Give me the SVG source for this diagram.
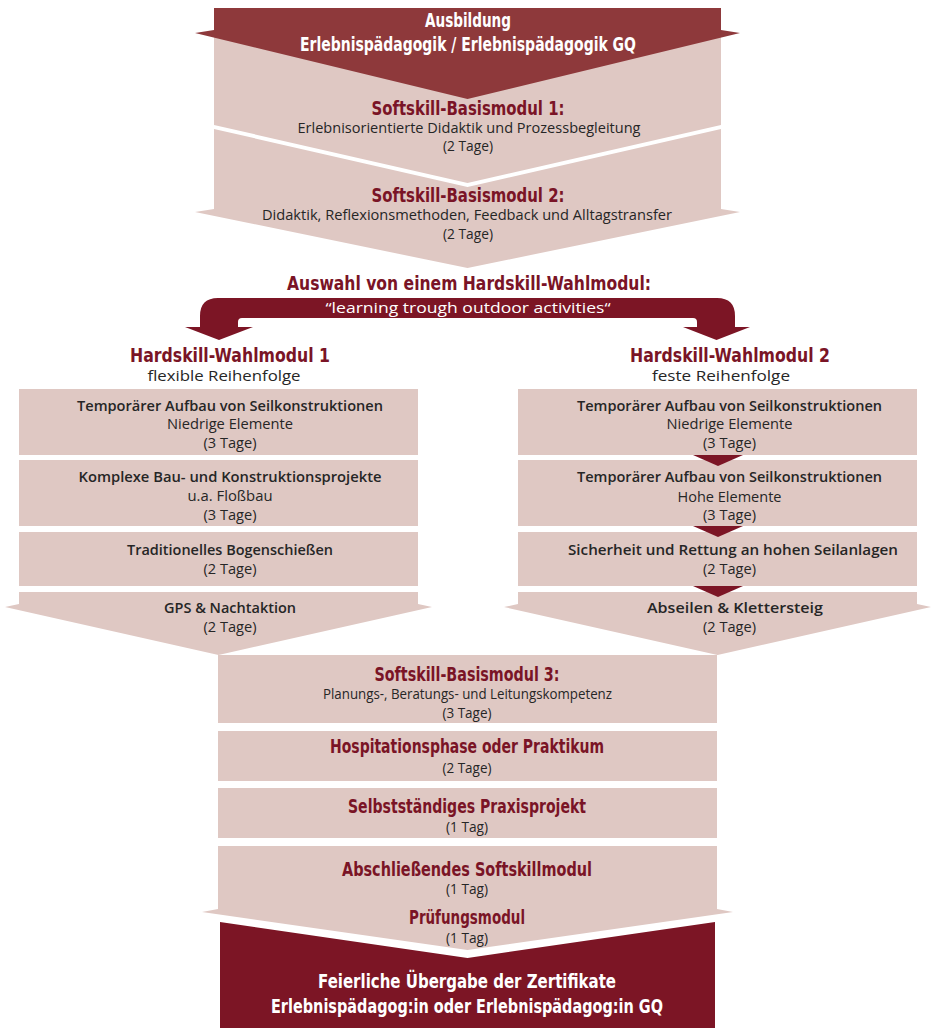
<svg xmlns="http://www.w3.org/2000/svg" width="935" height="1028" viewBox="0 0 935 1028">
<style>
.pk{fill:#dfc8c3}
.dk{fill:#7c1525}
.top{fill:#8e393b}
.h{font-family:"DejaVu Sans","Liberation Sans",Arial,sans-serif;font-weight:bold;font-size:20px;text-anchor:middle;fill:#7a1426}
.b{font-family:"Open Sans","Noto Sans",sans-serif;font-size:15px;text-anchor:middle;fill:#262626}
.s{font-weight:600}
.w{fill:#ffffff}
</style>
<rect width="935" height="1028" fill="#ffffff"/>

<g id="basis1">
<polygon class="pk" points="214,30 721,30 721,125 467.5,183 214,125"/>
<text class="h" x="468" y="115" textLength="193" lengthAdjust="spacingAndGlyphs">Softskill-Basismodul 1:</text>
<text class="b" x="469" y="133" textLength="343" lengthAdjust="spacingAndGlyphs">Erlebnisorientierte Didaktik und Prozessbegleitung</text>
<text class="b" x="468" y="151" textLength="50" lengthAdjust="spacingAndGlyphs">(2 Tage)</text>
</g>

<g id="ausbildung">
<polygon class="top" points="214,8 721,8 721,30 740,33 467.5,99 195,33 214,30"/>
<text class="h w" x="468" y="27" font-size="19" textLength="86" lengthAdjust="spacingAndGlyphs">Ausbildung</text>
<text class="h w" x="468" y="51" font-size="19" textLength="336" lengthAdjust="spacingAndGlyphs">Erlebnispädagogik / Erlebnispädagogik GQ</text>
</g>

<g id="basis2">
<polygon class="pk" points="214,129 467.5,187 721,129 721,209 740,212 467.5,268 195,212 214,209"/>
<text class="h" x="468" y="202" textLength="193" lengthAdjust="spacingAndGlyphs">Softskill-Basismodul 2:</text>
<text class="b" x="467" y="220" textLength="410" lengthAdjust="spacingAndGlyphs">Didaktik, Reflexionsmethoden, Feedback und Alltagstransfer</text>
<text class="b" x="468" y="239" textLength="50" lengthAdjust="spacingAndGlyphs">(2 Tage)</text>
</g>

<g id="auswahl">
<text class="h" x="469" y="290" textLength="364" lengthAdjust="spacingAndGlyphs">Auswahl von einem Hardskill-Wahlmodul:</text>
</g>

<g id="connectors">
<path class="dk" d="M200,327 L200,316 Q200,298 218,298 L717,298 Q735,298 735,316 L735,327 L750,327 L716.5,340 L683,327 L697,327 L697,322 Q697,318 693,318 L242,318 Q238,318 238,322 L238,327 L253,327 L219,340 L185,327 Z"/>
<text class="b w" x="468" y="313" textLength="285" lengthAdjust="spacingAndGlyphs">“learning trough outdoor activities“</text>
</g>

<g id="wahl1-header">
<text class="h" x="230" y="362" textLength="200" lengthAdjust="spacingAndGlyphs">Hardskill-Wahlmodul 1</text>
<text class="b" x="224" y="381" textLength="153" lengthAdjust="spacingAndGlyphs">flexible Reihenfolge</text>
</g>
<g id="wahl2-header">
<text class="h" x="730" y="362" textLength="200" lengthAdjust="spacingAndGlyphs">Hardskill-Wahlmodul 2</text>
<text class="b" x="721" y="381" textLength="138" lengthAdjust="spacingAndGlyphs">feste Reihenfolge</text>
</g>

<g id="l1">
<rect class="pk" x="19" y="389" width="399" height="66"/>
<text class="b s" x="230" y="411" textLength="306" lengthAdjust="spacingAndGlyphs">Temporärer Aufbau von Seilkonstruktionen</text>
<text class="b" x="230" y="429" textLength="126" lengthAdjust="spacingAndGlyphs">Niedrige Elemente</text>
<text class="b" x="230" y="448" textLength="53" lengthAdjust="spacingAndGlyphs">(3 Tage)</text>
</g>
<g id="l2">
<rect class="pk" x="19" y="460" width="399" height="66"/>
<text class="b s" x="230" y="482" textLength="303" lengthAdjust="spacingAndGlyphs">Komplexe Bau- und Konstruktionsprojekte</text>
<text class="b" x="230" y="501" textLength="85" lengthAdjust="spacingAndGlyphs">u.a. Floßbau</text>
<text class="b" x="230" y="520" textLength="53" lengthAdjust="spacingAndGlyphs">(3 Tage)</text>
</g>
<g id="l3">
<rect class="pk" x="19" y="532" width="399" height="54"/>
<text class="b s" x="230" y="555" textLength="206" lengthAdjust="spacingAndGlyphs">Traditionelles Bogenschießen</text>
<text class="b" x="230" y="574" textLength="53" lengthAdjust="spacingAndGlyphs">(2 Tage)</text>
</g>
<g id="l4">
<polygon class="pk" points="19,592 418,592 418,604 432,607 218.5,655 5,607 19,604"/>
<text class="b s" x="230" y="613" textLength="132" lengthAdjust="spacingAndGlyphs">GPS &amp; Nachtaktion</text>
<text class="b" x="230" y="632" textLength="53" lengthAdjust="spacingAndGlyphs">(2 Tage)</text>
</g>

<g id="r1">
<rect class="pk" x="518" y="389" width="399" height="66"/>
<text class="b s" x="729.5" y="411" textLength="305" lengthAdjust="spacingAndGlyphs">Temporärer Aufbau von Seilkonstruktionen</text>
<text class="b" x="729.5" y="429" textLength="126" lengthAdjust="spacingAndGlyphs">Niedrige Elemente</text>
<text class="b" x="729.5" y="448" textLength="53" lengthAdjust="spacingAndGlyphs">(3 Tage)</text>
</g>
<g id="r2">
<rect class="pk" x="518" y="460" width="399" height="66"/>
<text class="b s" x="729.5" y="482" textLength="305" lengthAdjust="spacingAndGlyphs">Temporärer Aufbau von Seilkonstruktionen</text>
<text class="b" x="729.5" y="502" textLength="104" lengthAdjust="spacingAndGlyphs">Hohe Elemente</text>
<text class="b" x="729.5" y="520" textLength="53" lengthAdjust="spacingAndGlyphs">(3 Tage)</text>
</g>
<g id="r3">
<rect class="pk" x="518" y="532" width="399" height="54"/>
<text class="b s" x="733" y="555" textLength="330" lengthAdjust="spacingAndGlyphs">Sicherheit und Rettung an hohen Seilanlagen</text>
<text class="b" x="729.5" y="574" textLength="53" lengthAdjust="spacingAndGlyphs">(2 Tage)</text>
</g>
<g id="r4">
<polygon class="pk" points="518,592 917,592 917,604 931,607 717.5,655 504,607 518,604"/>
<text class="b s" x="735" y="613" textLength="176" lengthAdjust="spacingAndGlyphs">Abseilen &amp; Klettersteig</text>
<text class="b" x="729.5" y="632" textLength="53" lengthAdjust="spacingAndGlyphs">(2 Tage)</text>
</g>

<g id="r-steps">
<polygon class="dk" points="693,455 743,455 718,466"/>
<polygon class="dk" points="693,526 743,526 718,537"/>
<polygon class="dk" points="693,586 743,586 718,597"/>
</g>

<g id="basis3">
<rect class="pk" x="218" y="655" width="499" height="68"/>
<text class="h" x="467" y="681" textLength="185" lengthAdjust="spacingAndGlyphs">Softskill-Basismodul 3:</text>
<text class="b" x="467.5" y="699" textLength="289" lengthAdjust="spacingAndGlyphs">Planungs-, Beratungs- und Leitungskompetenz</text>
<text class="b" x="467" y="718" textLength="49" lengthAdjust="spacingAndGlyphs">(3 Tage)</text>
</g>
<g id="hospitation">
<rect class="pk" x="218" y="731" width="499" height="50"/>
<text class="h" x="467" y="753" textLength="274" lengthAdjust="spacingAndGlyphs">Hospitationsphase oder Praktikum</text>
<text class="b" x="467" y="773" textLength="49" lengthAdjust="spacingAndGlyphs">(2 Tage)</text>
</g>
<g id="praxisprojekt">
<rect class="pk" x="218" y="788" width="499" height="50"/>
<text class="h" x="467" y="813" textLength="238" lengthAdjust="spacingAndGlyphs">Selbstständiges Praxisprojekt</text>
<text class="b" x="467" y="832" textLength="42" lengthAdjust="spacingAndGlyphs">(1 Tag)</text>
</g>
<g id="abschluss">
<polygon class="pk" points="218,846 717,846 717,909 733,912 467.5,950 202,912 218,909"/>
<text class="h" x="467" y="876" textLength="250" lengthAdjust="spacingAndGlyphs">Abschließendes Softskillmodul</text>
<text class="b" x="467" y="894" textLength="42" lengthAdjust="spacingAndGlyphs">(1 Tag)</text>
<text class="h" x="467" y="924" textLength="116" lengthAdjust="spacingAndGlyphs">Prüfungsmodul</text>
<text class="b" x="467" y="943" textLength="42" lengthAdjust="spacingAndGlyphs">(1 Tag)</text>
</g>
<g id="zertifikate">
<polygon class="dk" points="220,922 467.5,958 715,922 715,1028 220,1028"/>
<text class="h w" x="467" y="988" textLength="298" lengthAdjust="spacingAndGlyphs">Feierliche Übergabe der Zertifikate</text>
<text class="h w" x="467" y="1013" textLength="392" lengthAdjust="spacingAndGlyphs">Erlebnispädagog:in oder Erlebnispädagog:in GQ</text>
</g>
</svg>
